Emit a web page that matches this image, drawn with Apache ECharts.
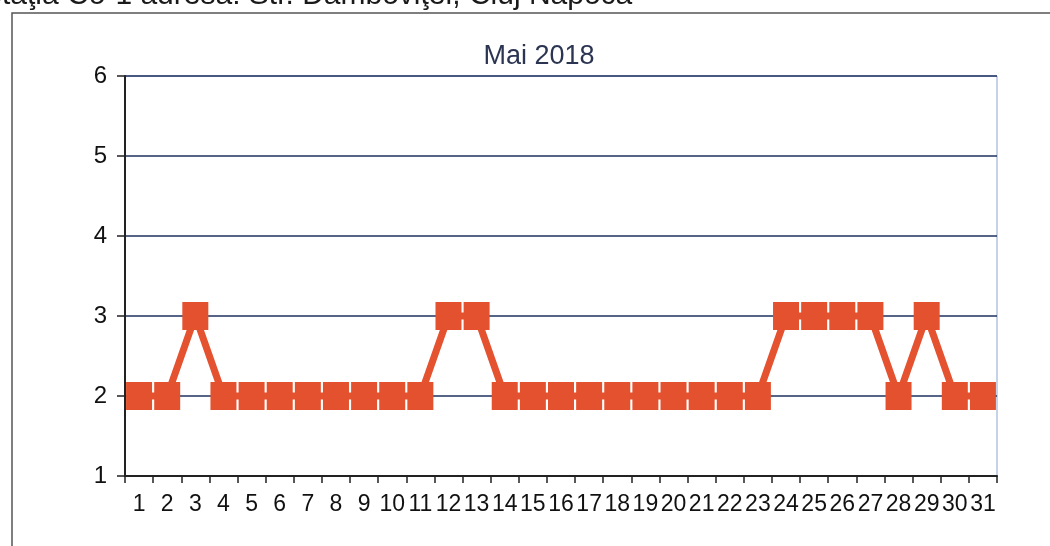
<!DOCTYPE html>
<html>
<head>
<meta charset="utf-8">
<script src="https://cdn.jsdelivr.net/npm/echarts@6/dist/echarts.min.js"></script>
<style>
  html, body { margin: 0; padding: 0; background: #fff; }
  #main { width: 1050px; height: 546px; }
</style>
</head>
<body>
<div id="main"></div>
<script>
// zilele lunii
var days = [];
for (var d = 1; d <= 31; d++) days.push(String(d));

// valori
var values = [2, 2, 3, 2, 2, 2, 2, 2, 2, 2, 2, 3, 3, 2, 2, 2, 2, 2, 2, 2, 2, 2, 2, 3, 3, 3, 3, 2, 3, 2, 2];

var headerText = 'Staţia Co-1 adresa: Str. Dâmboviţei, Cluj Napoca';
var titleText = 'Mai 2018';

var chart = echarts.init(document.getElementById('main'));

var option = {
    backgroundColor: '#fff',
    animation: false,
    title: {
        text: titleText,
        left: 534,
        top: 38,
        textAlign: 'center',
        textStyle: {
            fontFamily: 'Liberation Sans',
            fontSize: 27,
            fontWeight: 'normal',
            color: '#2b3552'
        }
    },
    graphic: [
        {
            type: 'text',
            left: -18,
            top: -19,
            style: {
                text: headerText,
                fontFamily: 'Liberation Sans',
                fontSize: 30,
                fill: '#1a1a1a'
            }
        },
        {
            type: 'rect',
            shape: { x: 12, y: 13, width: 1100, height: 600 },
            style: { fill: 'none', stroke: '#555', lineWidth: 1.5 }
        }
    ],
    grid: {
        left: 125,
        right: 53,
        top: 76,
        bottom: 70,
        show: true,
        borderColor: '#8ea2cf',
        borderWidth: 1
    },
    xAxis: {
        type: 'category',
        data: days,
        boundaryGap: true,
        axisLine: { lineStyle: { color: '#222', width: 2 } },
        axisTick: { show: true, length: 7, lineStyle: { color: '#222', width: 1.5 } },
        axisLabel: {
            interval: 0,
            margin: 17,
            fontFamily: 'Liberation Sans',
            fontSize: 23,
            color: '#111'
        }
    },
    yAxis: {
        type: 'value',
        min: 1,
        max: 6,
        interval: 1,
        axisLine: { show: true, lineStyle: { color: '#222', width: 2 } },
        axisTick: { show: true, length: 8, lineStyle: { color: '#222', width: 1.5 } },
        axisLabel: {
            margin: 18,
            fontFamily: 'Liberation Sans',
            fontSize: 24,
            color: '#111'
        },
        splitLine: { show: true, lineStyle: { color: '#1e3160', width: 1.5 } }
    },
    series: [
        {
            type: 'line',
            data: values,
            symbol: 'rect',
            symbolSize: [26, 28],
            lineStyle: { color: '#e5522f', width: 7 },
            itemStyle: { color: '#e4512e' }
        }
    ]
};

chart.setOption(option);
</script>
</body>
</html>
